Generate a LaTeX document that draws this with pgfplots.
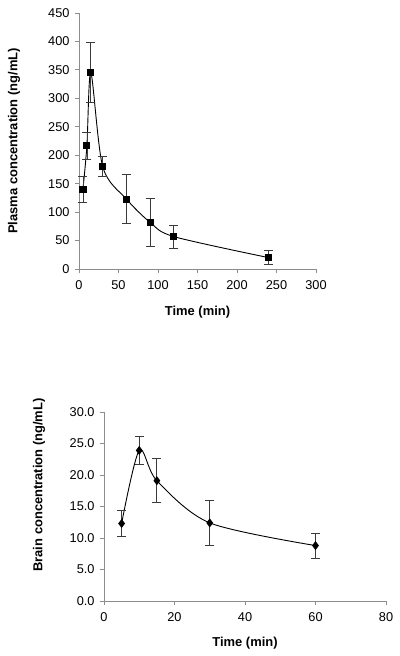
\documentclass[border=0pt]{standalone}
\usepackage{fontspec}
\setmainfont{Liberation Sans}
\usepackage{pgfplots}
\usepackage{pgfplotstable}
\pgfplotsset{compat=1.18}
\definecolor{axgray}{HTML}{8C8C8C}
\definecolor{errgray}{HTML}{3A3A3A}
\pgfplotstableread{
x y e
5 140 23
10 217 24
15 345 53
30 180 18
60 123 43
90 82 42
120 57 20
240 20 12
}\plasma
\pgfplotstableread{
x y e
5 12.3 2.1
10 23.9 2.2
15 19.1 3.5
30 12.4 3.5
60 8.8 2.0
}\brain
\begin{document}
\begin{tikzpicture}
\path[use as bounding box] (0bp,0bp) rectangle (400bp,-656bp);
\pgfplotsset{
  myax/.style={
    scale only axis,
    axis x line=bottom, axis y line=left,
    axis line style={-, draw=axgray, line width=0.8bp},
    tick align=outside, major tick length=4bp,
    tick style={axgray, line width=0.8bp},
    tick label style={font=\fontsize{12.8}{14}\selectfont},
    label style={font=\bfseries\fontsize{13}{15}\selectfont},
    /pgf/number format/assume math mode=true,
    scaled ticks=false, clip=false, enlargelimits=false,
    xticklabel style={yshift=-4.5bp},
    yticklabel style={xshift=-2bp},
  },
  myplot/.style={
    black, line width=0.9bp, smooth, tension=0.5,
    error bars/y dir=both, error bars/y explicit,
    error bars/error bar style={errgray, line width=0.8bp, solid},
    error bars/error mark options={rotate=90, errgray, mark size=4.5bp, line width=0.8bp},
  },
}
\begin{axis}[myax,
  at={(79bp,-269bp)}, anchor=south west,
  width=237bp, height=256bp,
  xmin=0, xmax=300, ymin=0, ymax=450,
  xtick={0,50,...,300}, ytick={0,50,...,450},
  xlabel={Time (min)}, ylabel={Plasma concentration (ng/mL)},
  xlabel style={at={(axis description cs:0.5,-0.168)}, anchor=center},
  ylabel style={at={(axis description cs:-0.274,0.5)}, anchor=center},
]
\addplot[myplot, mark=square*, mark size=3bp, mark options={solid, fill=black}]
  table[x=x, y=y, y error=e] {\plasma};
\end{axis}
\begin{axis}[myax,
  at={(104bp,-601bp)}, anchor=south west,
  width=282bp, height=189bp,
  xmin=0, xmax=80, ymin=0, ymax=30,
  xtick={0,20,...,80}, ytick={0,5,...,30},
  yticklabel style={/pgf/number format/.cd, fixed, fixed zerofill, precision=1},
  xlabel={Time (min)}, ylabel={Brain concentration (ng/mL)},
  xlabel style={at={(axis description cs:0.5,-0.222)}, anchor=center},
  ylabel style={at={(axis description cs:-0.230,0.614)}, anchor=center},
]
\addplot[myplot, mark=diamond*, mark size=3.8bp, mark options={solid, fill=black}]
  table[x=x, y=y, y error=e] {\brain};
\end{axis}
\end{tikzpicture}
\end{document}
